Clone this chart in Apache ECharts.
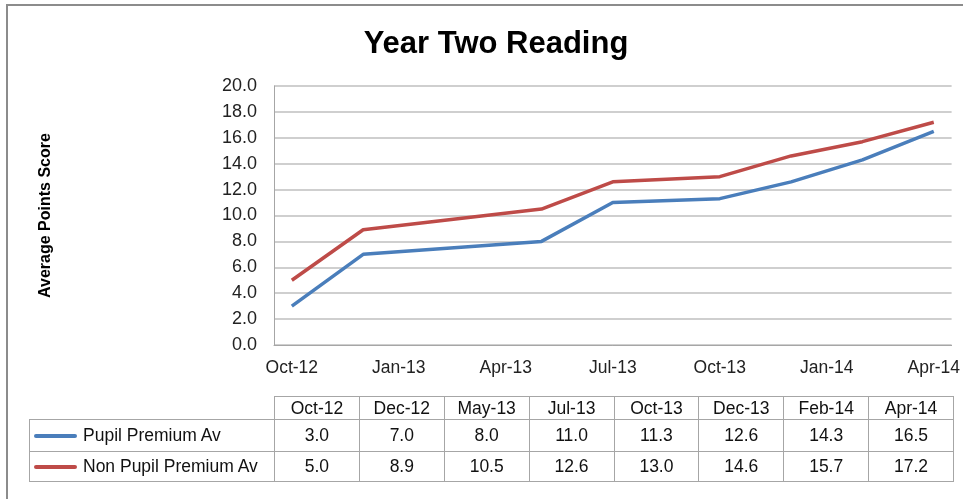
<!DOCTYPE html>
<html>
<head>
<meta charset="utf-8">
<script src="https://cdn.jsdelivr.net/npm/echarts@6/dist/echarts.min.js"></script>
<style>
  html, body { margin: 0; padding: 0; background: #fff; overflow: hidden; }
  #frame { position: absolute; left: 6px; top: 4px; width: 1000px; height: 600px; border: 2px solid #8c8c8c; }
  #chart { position: absolute; left: 0; top: 0; width: 963px; height: 499px; }
  #dataTable { position: absolute; left: 29px; top: 396px; border-collapse: collapse; table-layout: fixed;
    font-family: 'Liberation Sans', Arial, sans-serif; font-size: 17.5px; color: #111; }
  #dataTable td { border: 1px solid #a6a6a6; text-align: center; padding: 0; }
  #dataTable td.corner { border: none; }
  #dataTable td.name { text-align: left; white-space: nowrap; }
  .key { display: inline-block; width: 43px; height: 4px; border-radius: 2px; vertical-align: middle; margin: 0 6px 0 4px; }
</style>
</head>
<body>
<div id="frame"></div>
<div id="chart"></div>
<table id="dataTable"></table>
<script>
// 月份刻度（类目轴，每月一格）
const months = ['Oct-12', 'Nov-12', 'Dec-12', 'Jan-13', 'Feb-13', 'Mar-13', 'Apr-13', 'May-13', 'Jun-13', 'Jul-13',
  'Aug-13', 'Sep-13', 'Oct-13', 'Nov-13', 'Dec-13', 'Jan-14', 'Feb-14', 'Mar-14', 'Apr-14']
// 测评日期
const testDates = ['Oct-12', 'Dec-12', 'May-13', 'Jul-13', 'Oct-13', 'Dec-13', 'Feb-14', 'Apr-14']
// 两组平均分
const pupilPremium = [3.0, 7.0, 8.0, 11.0, 11.3, 12.6, 14.3, 16.5]
const nonPupilPremium = [5.0, 8.9, 10.5, 12.6, 13.0, 14.6, 15.7, 17.2]
const seriesNames = ['Pupil Premium Av', 'Non Pupil Premium Av']
const seriesColors = ['#4a7ebb', '#be4b48']

const allValues = [pupilPremium, nonPupilPremium]

const chart = echarts.init(document.getElementById('chart'))
const font = "'Liberation Sans', Arial, sans-serif"

let option = {
  animation: false,
  title: {
    text: 'Year Two Reading',
    left: 491,
    top: 24,
    textAlign: 'center',
    textStyle: { fontFamily: font, fontSize: 31, fontWeight: 'bold', color: '#000' }
  },
  grid: { left: 274, right: 10, top: 86, bottom: 154 },
  xAxis: {
    type: 'category',
    data: months,
    boundaryGap: true,
    axisLine: { lineStyle: { color: '#a6a6a6', width: 1 } },
    axisTick: { show: false },
    axisLabel: { interval: 2, margin: 14, fontFamily: font, fontSize: 17.5, color: '#222' }
  },
  yAxis: {
    type: 'value',
    min: 0,
    max: 20,
    interval: 2,
    name: 'Average Points Score',
    nameLocation: 'middle',
    nameRotate: 90,
    nameGap: 220,
    nameTextStyle: { fontFamily: font, fontSize: 16, fontWeight: 'bold', color: '#000' },
    axisLine: { show: true, lineStyle: { color: '#a6a6a6', width: 1 } },
    axisTick: { show: false },
    splitLine: { lineStyle: { color: '#bfbfbf', width: 1.5 } },
    axisLabel: { margin: 17, fontFamily: font, fontSize: 18, color: '#222', formatter: v => v.toFixed(1) }
  },
  series: allValues.map((vals, i) => ({
    name: seriesNames[i],
    type: 'line',
    data: testDates.map((d, j) => [d, vals[j]]),
    symbol: 'none',
    lineStyle: { color: seriesColors[i], width: 3.5 },
    itemStyle: { color: seriesColors[i] }
  }))
}
chart.setOption(option)

// 数据表
const table = document.getElementById('dataTable')
const colW = (953 - 274) / testDates.length
let html = '<colgroup><col style="width:245px">' + testDates.map(() => `<col style="width:${colW}px">`).join('') + '</colgroup>'
html += '<tr style="height:23px"><td class="corner"></td>' + testDates.map(d => `<td>${d}</td>`).join('') + '</tr>'
const rowHeights = [32, 30]
allValues.forEach((vals, i) => {
  html += `<tr style="height:${rowHeights[i]}px"><td class="name"><span class="key" style="background:${seriesColors[i]}"></span>${seriesNames[i]}</td>`
  html += vals.map(v => `<td>${v.toFixed(1)}</td>`).join('') + '</tr>'
})
table.innerHTML = html
</script>
</body>
</html>
